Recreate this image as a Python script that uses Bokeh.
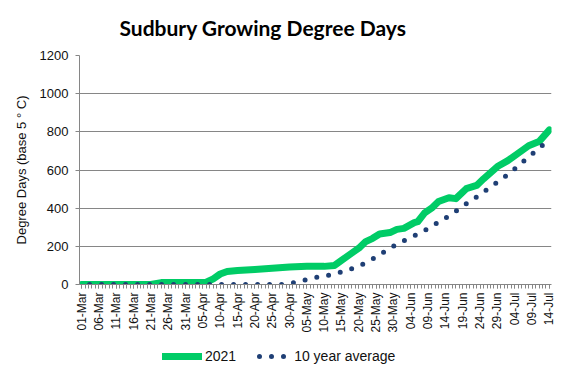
import numpy as np
from bokeh.plotting import figure
from bokeh.layouts import column
from bokeh.models import Range1d, FixedTicker, Legend, LegendItem
from bokeh.embed import file_html
from bokeh.resources import INLINE

# ---- data (days counted from 01-Mar) ----
tick_days = [0, 5, 10, 15, 20, 25, 30, 35, 40, 45, 50, 55, 60, 65, 70, 75, 80,
             85, 90, 95, 100, 105, 110, 115, 120, 125, 130, 135]
tick_labels = ["01-Mar", "06-Mar", "11-Mar", "16-Mar", "21-Mar", "26-Mar", "31-Mar",
               "05-Apr", "10-Apr", "15-Apr", "20-Apr", "25-Apr", "30-Apr", "05-May",
               "10-May", "15-May", "20-May", "25-May", "30-May", "04-Jun", "09-Jun",
               "14-Jun", "19-Jun", "24-Jun", "29-Jun", "04-Jul", "09-Jul", "14-Jul"]
all_days = list(range(0, 136))
y_ticks = [0, 200, 400, 600, 800, 1000, 1200]

days_2021 = [0, 20, 23, 36, 38, 40, 42, 45, 50, 55, 60, 65, 70, 73, 75, 78, 80, 82,
             84, 86, 89, 91, 93, 96, 97, 99, 101, 103, 106, 108, 111, 114, 116, 120,
             123, 127, 129, 132, 135]
gdd_2021 = [0, 0, 10, 12, 30, 55, 68, 73, 78, 85, 92, 95, 95, 100, 126, 165, 190, 225,
            242, 265, 272, 289, 294, 324, 329, 375, 400, 435, 455, 450, 502, 519, 554,
            618, 649, 701, 727, 749, 810]

days_avg = [0, 58, 62.6, 65.8, 69.7, 72.8, 76, 79.4, 82.6, 85.6, 88.5, 91.4, 94.5,
            97.7, 100.8, 103.6, 106.6, 109.4, 112.2, 115.2, 117.8, 120.7, 123.5,
            126.1, 128.7, 131.4, 134, 135]
gdd_avg = [0, 0, 14, 31, 43, 54, 71, 92, 119, 151, 185, 216, 242, 270, 301, 334, 365,
           402, 438, 473, 509, 545, 583, 623, 665, 705, 745, 758]

series_names = ["2021", "10 year average"]

GREEN = "#00CC66"
BLUE = "#1F3F75"
GRID = "#868686"
FONT = "Liberation Sans"

p = figure(width=560, height=339, output_backend="svg",
           toolbar_location=None,
           x_range=Range1d(-0.6, 135.6), y_range=Range1d(0, 1200),
           min_border_left=79, min_border_right=9, min_border_top=53,
           min_border_bottom=55)

p.title.text = "Sudbury Growing Degree Days"
p.title.align = "left"
p.title.offset = 40
p.title.vertical_align = "top"
p.title.standoff = 28
p.title.text_font = "Lato"
p.title.text_font_size = "21px"
p.title.text_font_style = "bold"
p.title.text_color = "#000000"

p.outline_line_color = None
p.xgrid.visible = False
p.ygrid.ticker = FixedTicker(ticks=y_ticks)
p.ygrid.grid_line_color = GRID
p.ygrid.grid_line_width = 1

# x axis
p.xaxis.ticker = FixedTicker(ticks=tick_days, minor_ticks=all_days)
p.xaxis.major_label_overrides = {d: l for d, l in zip(tick_days, tick_labels)}
p.xaxis.major_label_orientation = np.pi / 2
p.xaxis.major_tick_in = 0
p.xaxis.major_tick_out = 4
p.xaxis.minor_tick_in = 0
p.xaxis.minor_tick_out = 4
p.xaxis.axis_line_color = GRID
p.xaxis.major_tick_line_color = GRID
p.xaxis.minor_tick_line_color = GRID
p.xaxis.major_label_text_font = FONT
p.xaxis.major_label_text_font_size = "12px"
p.xaxis.major_label_text_color = "#111111"
p.xaxis.major_label_standoff = 4

# y axis
p.yaxis.ticker = FixedTicker(ticks=y_ticks)
p.yaxis.major_tick_in = 0
p.yaxis.major_tick_out = 4
p.yaxis.minor_tick_line_color = None
p.yaxis.axis_line_color = GRID
p.yaxis.major_tick_line_color = GRID
p.yaxis.major_label_text_font = FONT
p.yaxis.major_label_text_font_size = "13px"
p.yaxis.major_label_text_color = "#111111"
p.yaxis.major_label_standoff = 7
p.yaxis.axis_label = "Degree Days (base 5 \u00b0 C)"
p.yaxis.axis_label_text_font = FONT
p.yaxis.axis_label_text_font_size = "13px"
p.yaxis.axis_label_text_font_style = "normal"
p.yaxis.axis_label_text_color = "#111111"
p.yaxis.axis_label_standoff = 8

green_style = dict(line_width=7, line_color=GREEN, line_cap="round",
                   line_join="round")
blue_style = dict(line_width=5, line_color=BLUE, line_dash="0 12",
                  line_dash_offset=4, line_cap="round", line_join="round")

p.line(days_2021, gdd_2021, **green_style)
p.line(days_avg, gdd_avg, **blue_style)

# ---- legend strip below the chart (series drawn out of view, legend only) ----
lg = figure(width=560, height=34, output_backend="svg", toolbar_location=None,
            x_range=Range1d(0, 1), y_range=Range1d(-2, -1), min_border=0)
lg.axis.visible = False
lg.grid.visible = False
lg.outline_line_color = None
s1 = lg.line(days_2021, gdd_2021, **green_style)
s2 = lg.line(days_avg, gdd_avg, **blue_style)
legend = Legend(items=[LegendItem(label=series_names[0], renderers=[s1]),
                       LegendItem(label=series_names[1], renderers=[s2])],
                orientation="horizontal", location=(83, 7),
                glyph_width=40, glyph_height=20, label_standoff=3,
                padding=0, margin=0, spacing=15,
                border_line_color=None, background_fill_alpha=0,
                label_text_font=FONT, label_text_font_size="14px",
                label_text_color="#111111")
lg.add_layout(legend, "center")

open("out.html", "w").write(file_html(column(p, lg, spacing=0), INLINE))
